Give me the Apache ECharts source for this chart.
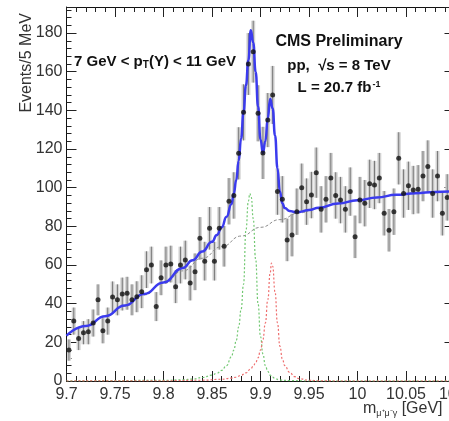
<!DOCTYPE html>
<html><head><meta charset="utf-8">
<script src="https://cdn.jsdelivr.net/npm/echarts/dist/echarts.min.js"></script>
<style>html,body{margin:0;padding:0;background:#fff}#c{width:449px;height:421px}</style>
</head><body><div id="c"></div>
<script>
// ---- data ----
const binLow = 9.7;      // GeV, first bin edge
const binWidth = 0.005;  // GeV (5 MeV bins)
const counts = [16,31,22,25,25.5,30,42,26,31,43.5, 42,45,45.4,42,43.6,46.2,57.6,60,38.5,53.4,
  60,60.5,48.8,60,62.6,50.7,56.5,73.8,62,79, 62,79,69.7,93,96,117.8,139,164,170.4,138.5,
  118,135,148,98,94,73,75.5,87.6,100,92.8, 96.2,107.8,88.8,94,105,96,93.6,88.8,98,74.6,
  93.6,92,102,101.4,105,86.8,78,87.6,115.2,97, 101,98.8,99.2,106,111,97,106,86.8,95,97];
const errors = [5.5,7,6,6,6.5,7,8,6.5,7,8, 8,8.5,8.5,8,8,8.5,9.5,9.5,7.5,9,
  9.5,9.5,8.5,9.5,10,9,9.5,11,10,11, 10,11,10.5,12,12,13.5,14.5,16,16,14.5,
  13.5,14,15,12,12,11,11,12,12.5,12, 12,13,12,12,13,12,12,12,12.5,11,
  12,12,12.5,12.5,13,11.5,11,12,13.5,12.5, 12.5,12.5,12.5,13,13.5,12.5,13,11.5,12,12.5];

const fitMass = [9.70,9.72,9.74,9.76,9.78,9.80,9.82,9.83,9.84,9.85, 9.855,9.86,9.865,9.87,9.8725,9.875,9.8775,9.88,9.8825,9.885,
  9.8875,9.89,9.8925,9.895,9.8975,9.90,9.9025,9.905,9.9075,9.91, 9.9125,9.915,9.9175,9.92,9.9225,9.925,9.93,9.935,9.94,9.95,
  9.96,9.98,10.00,10.02,10.04,10.06,10.08,10.10];
const fitTotal = [23.5,28.5,33.5,39,45,51,58.5,62.5,67,72, 75.5,79.5,85,91.5,97,104,114,125.5,139,153,
  166,181.5,175,160,142,125,118,124,136,146, 141,127,110,98,92,89.5,88,87.5,87.5,88.5,
  89.6,91.8,93.5,95,96.3,97.2,97.8,98.2];

const bgMass = [9.70,9.72,9.74,9.76,9.78,9.80,9.82,9.84,9.86,9.88,9.90,9.92,9.94,9.96,9.98,10.00,10.02,10.04,10.06,10.08,10.10];
const bgVal  = [23.5,28.5,33.3,38.7,44.5,50.5,57,63.5,69.5,75,79.5,83.5,87,89.5,91.8,93.5,95,96.3,97.2,97.8,98.2];

const greenMass = [9.70,9.80,9.82,9.83,9.84,9.85,9.855,9.86,9.865,9.87,9.8725,9.875,9.8775,9.88,9.8825,9.885,9.8875,9.889,9.8905,9.8925,
  9.895,9.8975,9.90,9.9025,9.905,9.9075,9.91,9.9125,9.915,9.92,9.93,9.95,10.10];
const greenVal  = [0,0.3,0.6,1,1.8,3,4,5.5,8,12.5,16,21,28,37,50,78,93,97,95,84,
  63,40,23,14,8,5,3,2,1.2,0.5,0.2,0,0];

const redMass = [9.70,9.80,9.84,9.86,9.87,9.875,9.88,9.885,9.89,9.8925,9.895,9.8975,9.90,9.9025,9.905,9.9075,9.91,9.9113,9.9125,9.915,
  9.9175,9.92,9.9225,9.925,9.93,9.935,9.94,9.95,9.96,9.98,10.10];
const redVal  = [0,0.1,0.4,0.9,1.5,2,3,4.2,6.3,7.7,9.5,12,16,21.5,30,42,56,61,59.5,46,
  30,18,11.5,8,4.5,2.3,1.2,0.4,0.1,0,0];

const xMin = 9.7, xMax = 10.1, xStep = 0.05;
const yMin = 0, yMax = 193.5, yStep = 20;

// ---- build ----
const FONT = '"Liberation Sans", Arial, Helvetica, sans-serif';
const centers = counts.map((_, i) => binLow + (i + 0.5) * binWidth);
const pts = counts.map((v, i) => [centers[i], v, errors[i]]);
const pairs = (a, b) => a.map((m, i) => [m, b[i]]);

const axisCommon = {
  type: 'value', min: xMin, max: xMax, interval: xStep,
  axisLine: { show: true, onZero: false, lineStyle: { color: '#111', width: 1 } },
  axisTick: { show: true, inside: true, length: 10, lineStyle: { color: '#222' } },
  minorTick: { show: true, splitNumber: 5, length: 5, lineStyle: { color: '#222' } },
  splitLine: { show: false }
};
const yCommon = {
  type: 'value', min: yMin, max: yMax, interval: yStep,
  axisLine: { show: true, onZero: false, lineStyle: { color: '#111', width: 1 } },
  axisTick: { show: true, inside: true, length: 10, lineStyle: { color: '#222' } },
  minorTick: { show: true, splitNumber: 5, length: 5, lineStyle: { color: '#222' } },
  splitLine: { show: false }
};

const chart = echarts.init(document.getElementById('c'), null, { renderer: 'canvas' });
chart.setOption({
  animation: false,
  backgroundColor: '#fff',
  grid: { left: 66.5, top: 7, width: 388, height: 374, containLabel: false, outerBoundsMode: 'none' },
  xAxis: [
    Object.assign({}, axisCommon, { position: 'bottom',
      axisLabel: { show: true, margin: 6, fontSize: 16, color: '#333', fontFamily: FONT,
        formatter: v => String(+v.toFixed(2)) } }),
    Object.assign({}, axisCommon, { position: 'top', axisLabel: { show: false } })
  ],
  yAxis: [
    Object.assign({}, yCommon, { position: 'left',
      axisLabel: { show: true, margin: 4, fontSize: 16, color: '#333', fontFamily: FONT, showMaxLabel: false } }),
    Object.assign({}, yCommon, { position: 'right', axisLabel: { show: false } })
  ],
  series: [
    {
      type: 'custom', z: 1, clip: true,
      data: pts,
      renderItem: function (params, api) {
        const x = api.value(0), y = api.value(1), e = api.value(2);
        const t = api.coord([x, y + e]);
        const b = api.coord([x, Math.max(0, y - e)]);
        return { type: 'group', children: [
          { type: 'rect', shape: { x: t[0] - 2, y: t[1], width: 4, height: b[1] - t[1] }, style: { fill: '#d2d2d2' } },
          { type: 'line', shape: { x1: t[0], y1: t[1], x2: b[0], y2: b[1] }, style: { stroke: '#7a7a7a', lineWidth: 1 } }
        ] };
      }
    },
    { type: 'line', z: 2, data: pairs(bgMass, bgVal), showSymbol: false, smooth: true, smoothMonotone: 'x',
      lineStyle: { color: '#8c8c8c', width: 1, type: [3, 2] } },
    { type: 'line', z: 2, data: pairs(greenMass, greenVal), showSymbol: false, smooth: true, smoothMonotone: 'x',
      lineStyle: { color: '#72c872', width: 1.2, type: [2, 2] } },
    { type: 'line', z: 2, data: pairs(redMass, redVal), showSymbol: false, smooth: true, smoothMonotone: 'x',
      lineStyle: { color: '#ee6e6e', width: 1.2, type: [2, 2] } },
    { type: 'line', z: 3, data: pairs(fitMass, fitTotal), showSymbol: false, smooth: true, smoothMonotone: 'x',
      lineStyle: { color: '#3b3bee', width: 2.5 } },
    { type: 'scatter', z: 4, data: pts.map(p => [p[0], p[1]]), symbol: 'circle', symbolSize: 5,
      itemStyle: { color: '#111' } }
  ],
  graphic: [
    { type: 'text', x: 27, y: 13, rotation: Math.PI / 2,
      style: { text: 'Events/5 MeV', font: '16px ' + FONT, fill: '#333', align: 'right', verticalAlign: 'middle' } },
    { type: 'text', x: 74, y: 62,
      style: { text: '{b|7 GeV < p}{s|T}{b|(Υ) < 11 GeV}', verticalAlign: 'middle',
        rich: { b: { font: 'bold 15px ' + FONT, fill: '#111', lineHeight: 16 },
                s: { font: 'bold 10px ' + FONT, fill: '#111', lineHeight: 16, verticalAlign: 'bottom', padding: [10, 0, 0, 0] } } } },
    { type: 'text', x: 339, y: 42,
      style: { text: 'CMS Preliminary', font: 'bold 16px ' + FONT, fill: '#111', align: 'center', verticalAlign: 'middle' } },
    { type: 'text', x: 339, y: 66,
      style: { text: 'pp,  √s = 8 TeV', font: 'bold 15px ' + FONT, fill: '#111', align: 'center', verticalAlign: 'middle' } },
    { type: 'text', x: 339, y: 88,
      style: { text: '{b|L = 20.7 fb}{u|-1}', align: 'center', verticalAlign: 'middle',
        rich: { b: { font: 'bold 15px ' + FONT, fill: '#111', lineHeight: 16 },
                u: { font: 'bold 9px ' + FONT, fill: '#111', lineHeight: 16, verticalAlign: 'top', padding: [0, 0, 8, 1] } } } },
    { type: 'text', x: 363, y: 409,
      style: { text: '{m|m}{s|μ⁺μ⁻γ}{m| [GeV]}', verticalAlign: 'middle',
        rich: { m: { font: '16px ' + FONT, fill: '#333', lineHeight: 18 },
                s: { font: '9px ' + FONT, fill: '#333', lineHeight: 18, verticalAlign: 'bottom', padding: [10, 0, 0, 0] } } } }
  ]
});
</script></body></html>
